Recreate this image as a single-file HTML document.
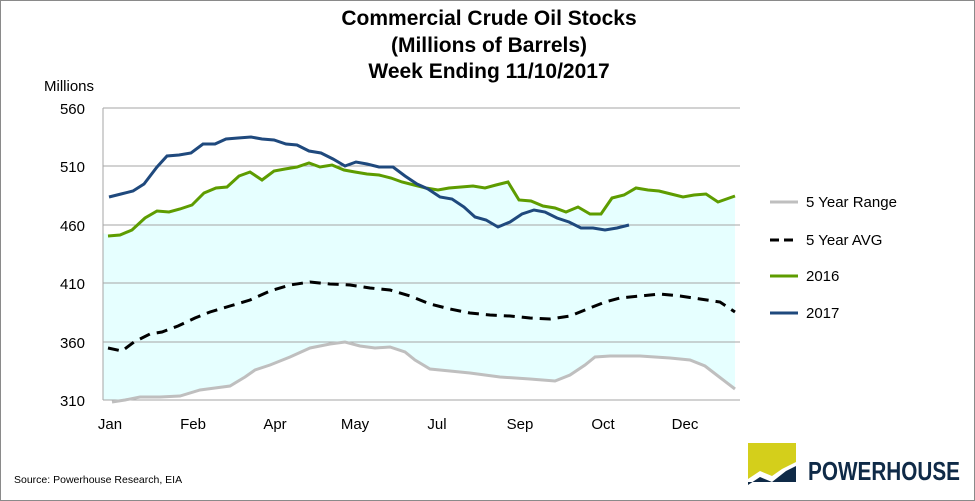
<!DOCTYPE html>
<html><head><meta charset="utf-8"><style>
html,body{margin:0;padding:0;background:#fff}
body{width:975px;height:501px;overflow:hidden;position:relative}
</style></head><body>
<svg width="975" height="501" xmlns="http://www.w3.org/2000/svg" style="position:absolute;left:0;top:0">
<rect x="0.5" y="0.5" width="974" height="500" fill="#fff" stroke="#8a8a8a"/>
<g font-family="'Liberation Sans Narrow','Liberation Sans',sans-serif" font-weight="bold" font-size="21" text-anchor="middle" fill="#000">
<text x="489" y="25">Commercial Crude Oil Stocks</text>
<text x="489" y="52">(Millions of Barrels)</text>
<text x="489" y="78">Week Ending 11/10/2017</text>
</g>
<text x="44" y="91" font-family="'Liberation Sans Narrow','Liberation Sans',sans-serif" font-size="15">Millions</text>
<polygon fill="#e6ffff" points="103,233 112,236 120,235 132,230 145,218 157,211 169,212 180,209 192,205 204,193 216,188 227,187 239,176 250,172 262,180 274,171 285,169 297,167 309,163 320,167 332,165 344,170 355,172 367,174 379,175 391,178 402,182 414,185 426,188 438,190 449,188 461,187 473,186 485,188 496,185 508,182 519,200 531,201 543,206 555,208 566,212 578,207 590,214 601,214 612,198 624,195 636,188 648,190 659,191 671,194 683,197 694,195 706,194 718,202 735,196 735,389 718,376 705,366 690,360 670,358 655,357 640,356 625,356 610,356 595,357 585,365 570,375 555,381 530,379 500,377 470,373 450,371 430,369 415,360 405,352 390,347 375,348 360,346 345,342 330,344 310,348 290,357 270,365 255,370 245,377 230,386 215,388 200,390 180,396 160,397 140,397 125,400 103,400"/>
<g stroke="#a6a6a6" stroke-width="1">
<line x1="103" y1="108" x2="740" y2="108"/><line x1="103" y1="166" x2="740" y2="166"/><line x1="103" y1="225" x2="740" y2="225"/><line x1="103" y1="283" x2="740" y2="283"/><line x1="103" y1="342" x2="740" y2="342"/><line x1="103" y1="400" x2="740" y2="400"/>
<line x1="103" y1="108" x2="103" y2="400"/>
</g>
<g font-family="'Liberation Sans',sans-serif" font-size="15" fill="#000">
<g text-anchor="end"><text x="85" y="114">560</text><text x="85" y="172">510</text><text x="85" y="231">460</text><text x="85" y="289">410</text><text x="85" y="348">360</text><text x="85" y="406">310</text></g>
<g text-anchor="middle"><text x="110" y="429">Jan</text><text x="193" y="429">Feb</text><text x="275" y="429">Apr</text><text x="355" y="429">May</text><text x="437" y="429">Jul</text><text x="520" y="429">Sep</text><text x="603" y="429">Oct</text><text x="685" y="429">Dec</text></g>
</g>
<polyline fill="none" stroke="#bfbfbf" stroke-width="3" points="112,402 125,400 140,397 160,397 180,396 200,390 215,388 230,386 245,377 255,370 270,365 290,357 310,348 330,344 345,342 360,346 375,348 390,347 405,352 415,360 430,369 450,371 470,373 500,377 530,379 555,381 570,375 585,365 595,357 610,356 625,356 640,356 655,357 670,358 690,360 705,366 718,376 735,389"/>
<polyline fill="none" stroke="#000" stroke-width="3" stroke-dasharray="11,7" points="108,348 122,351 134,342 150,334 162,332 178,326 195,318 210,312 230,306 250,300 270,291 290,285 310,282 330,284 350,285 370,288 390,290 410,296 430,304 450,309 470,313 490,315 510,316 530,318 550,319 570,316 590,308 605,302 620,298 640,296 660,294 680,296 700,299 720,302 735,312"/>
<polyline fill="none" stroke="#5e9c00" stroke-width="3" points="108,236 120,235 132,230 145,218 157,211 169,212 180,209 192,205 204,193 216,188 227,187 239,176 250,172 262,180 274,171 285,169 297,167 309,163 320,167 332,165 344,170 355,172 367,174 379,175 391,178 402,182 414,185 426,188 438,190 449,188 461,187 473,186 485,188 496,185 508,182 519,200 531,201 543,206 555,208 566,212 578,207 590,214 601,214 612,198 624,195 636,188 648,190 659,191 671,194 683,197 694,195 706,194 718,202 735,196"/>
<polyline fill="none" stroke="#1f497d" stroke-width="3" points="109,197 121,194 133,191 144,184 157,167 167,156 179,155 191,153 203,144 215,144 226,139 238,138 251,137 262,139 274,140 286,144 297,145 309,151 321,153 333,159 345,166 356,162 367,164 379,167 393,167 405,176 417,184 428,189 440,197 452,199 464,207 475,217 486,220 498,227 510,222 522,214 534,210 545,212 557,218 569,222 581,228 593,228 605,230 617,228 629,225"/>
<g font-family="'Liberation Sans',sans-serif" font-size="15" fill="#000">
<line x1="770" y1="202" x2="798" y2="202" stroke="#bfbfbf" stroke-width="3"/><text x="806" y="207">5 Year Range</text>
<line x1="770" y1="240" x2="798" y2="240" stroke="#000" stroke-width="3" stroke-dasharray="9,5"/><text x="806" y="245">5 Year AVG</text>
<line x1="770" y1="276" x2="798" y2="276" stroke="#5e9c00" stroke-width="3"/><text x="806" y="281">2016</text>
<line x1="770" y1="313" x2="798" y2="313" stroke="#1f497d" stroke-width="3"/><text x="806" y="318">2017</text>
</g>
<text x="14" y="483" font-family="'Liberation Sans',sans-serif" font-size="10.5" fill="#000">Source: Powerhouse Research, EIA</text>
<polygon fill="#d4cf1b" points="748,443 796,443 796,462 782,469 772,476 760,471 748,479"/>
<polygon fill="#0f2a47" points="748,485 760,477 772,482 786,471 796,466 796,482 748,482"/>
<text x="808" y="480" font-family="'Liberation Sans Narrow','Liberation Sans',sans-serif" font-weight="bold" font-size="26" fill="#0f2a47" textLength="152" lengthAdjust="spacingAndGlyphs">POWERHOUSE</text>
</svg>
</body></html>
